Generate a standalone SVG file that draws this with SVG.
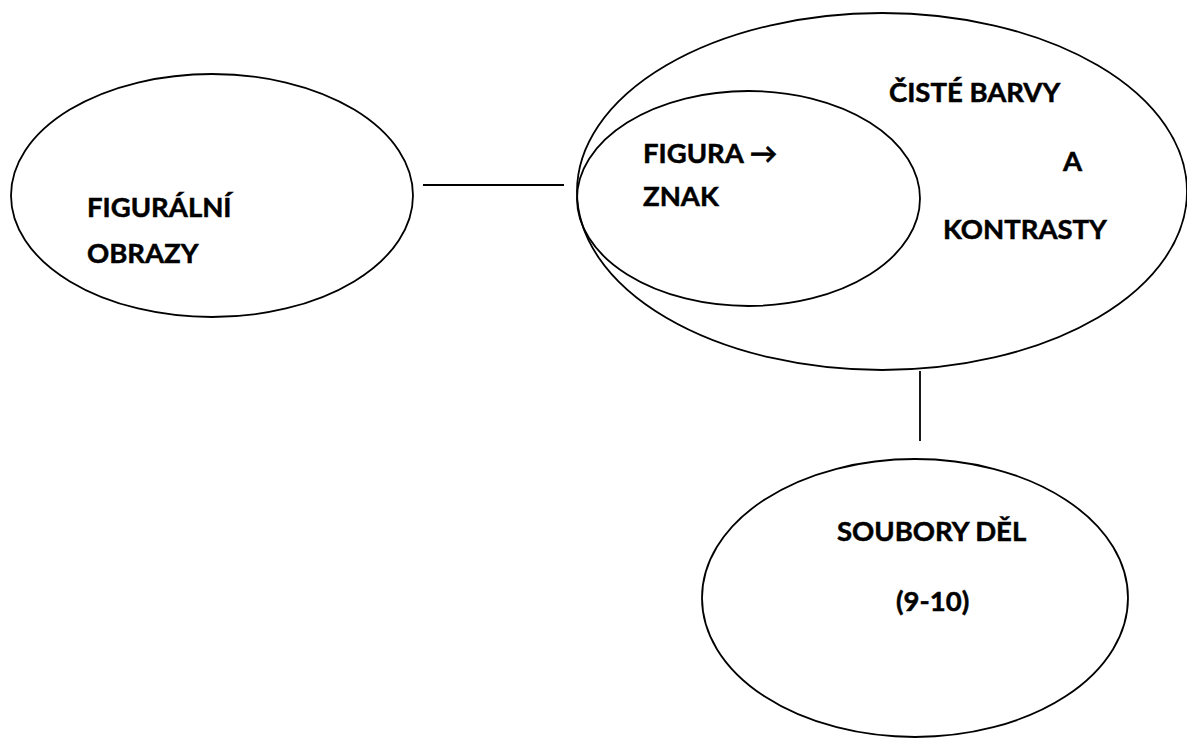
<svg xmlns="http://www.w3.org/2000/svg" width="1187" height="738" viewBox="0 0 1187 738">
<style>
.shape{fill:none;stroke:#000;stroke-width:1.8}
.conn{stroke:#000;stroke-width:1.8;fill:none}
text{font-family:Lato,"Open Sans","Liberation Sans",sans-serif;font-weight:bold;font-size:27.5px;fill:#000;stroke:#000;stroke-width:0.5}
</style>
<rect width="1187" height="738" fill="#fff"/>
<g id="connectors">
<line class="conn" x1="423" y1="185" x2="564" y2="185"/>
<line class="conn" x1="920" y1="371" x2="920" y2="441"/>
</g>
<g id="node-figuralni">
<ellipse class="shape" cx="212" cy="195.5" rx="201" ry="121.5"/>
<text x="87" y="217">FIGURÁLNÍ</text>
<text x="87" y="263">OBRAZY</text>
</g>
<g id="node-ciste">
<ellipse class="shape" cx="882" cy="191.5" rx="305" ry="178.5"/>
<text x="889" y="102">ČISTÉ BARVY</text>
<text x="1063" y="171">A</text>
<text x="943" y="239">KONTRASTY</text>
</g>
<g id="node-figura">
<ellipse class="shape" cx="748.5" cy="198.5" rx="171.5" ry="107.5"/>
<text x="643" y="163">FIGURA →</text>
<text x="643" y="206">ZNAK</text>
</g>
<g id="node-soubory">
<ellipse class="shape" cx="915" cy="598" rx="213" ry="139"/>
<text x="837" y="541">SOUBORY DĚL</text>
<text x="896" y="611">(9-10)</text>
</g>
</svg>
